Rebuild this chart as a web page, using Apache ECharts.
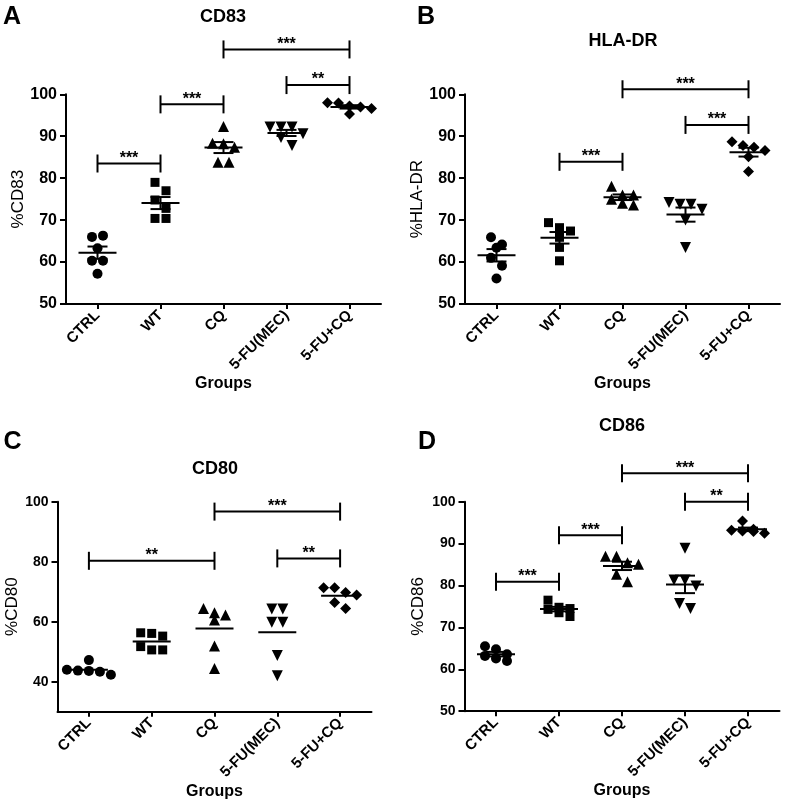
<!DOCTYPE html>
<html>
<head>
<meta charset="utf-8">
<script src="https://cdn.jsdelivr.net/npm/echarts@6/dist/echarts.min.js"></script>
<style>
html,body{margin:0;padding:0;background:#fff;}
#c{width:787px;height:806px;}
</style>
</head>
<body>
<div id="c"></div>
<script>
// ---------------- data ----------------
const categories = ['CTRL', 'WT', 'CQ', '5-FU(MEC)', '5-FU+CQ'];

// Panel A: CD83
const cd83_CTRL = [66.0, 66.3, 63.3, 60.3, 60.3, 57.2];
const cd83_WT   = [79.0, 77.0, 74.8, 72.8, 70.4, 70.4];
const cd83_CQ   = [92.3, 88.3, 88.2, 87.4, 83.8, 83.8];
const cd83_MEC  = [92.2, 92.2, 92.2, 90.6, 89.7, 87.8];
const cd83_FUCQ = [98.0, 97.9, 97.2, 97.0, 96.6, 95.3];

// Panel B: HLA-DR
const hla_CTRL = [65.9, 64.2, 63.4, 61.0, 59.1, 56.1];
const hla_WT   = [69.4, 68.2, 67.4, 65.9, 63.5, 60.3];
const hla_CQ   = [78.1, 76.0, 76.0, 75.0, 74.0, 73.6];
const hla_MEC  = [74.2, 73.8, 73.8, 72.6, 70.0, 63.5];
const hla_FUCQ = [88.7, 87.8, 87.4, 86.6, 85.1, 81.6];

// Panel C: CD80
const cd80_CTRL = [47.2, 44.0, 43.7, 43.6, 43.3, 42.3];
const cd80_WT   = [56.3, 56.1, 55.2, 51.7, 50.6, 50.6];
const cd80_CQ   = [64.4, 63.0, 62.2, 60.6, 51.9, 44.4];
const cd80_MEC  = [64.2, 64.2, 59.8, 59.8, 48.7, 42.0];
const cd80_FUCQ = [71.3, 71.3, 69.7, 68.9, 66.4, 64.4];

// Panel D: CD86
const cd86_CTRL = [65.5, 64.8, 63.6, 63.2, 62.6, 62.0];
const cd86_WT   = [76.5, 74.8, 74.5, 74.3, 73.5, 72.6];
const cd86_CQ   = [87.0, 87.0, 85.4, 85.1, 82.7, 80.9];
const cd86_MEC  = [88.9, 81.3, 81.3, 79.9, 75.7, 74.5];
const cd86_FUCQ = [95.4, 93.4, 93.2, 93.0, 92.9, 92.5];

// significance brackets: [fromCategory, toCategory, level]
const cd83_brackets = [[0, 1, 83.5], [1, 2, 97.6], [3, 4, 102.2], [2, 4, 110.7]];
const cd83_stars    = ['***', '***', '**', '***'];
const hla_brackets  = [[1, 2, 83.9], [3, 4, 92.7], [2, 4, 101.2]];
const hla_stars     = ['***', '***', '***'];
const cd80_brackets = [[0, 2, 80.3], [3, 4, 81.1], [2, 4, 96.7]];
const cd80_stars    = ['**', '**', '***'];
const cd86_brackets = [[0, 1, 80.9], [1, 2, 92.0], [3, 4, 100.0], [2, 4, 106.8]];
const cd86_stars    = ['***', '***', '**', '***'];

// y tick values
const ticksA = [50, 60, 70, 80, 90, 100];
const ticksC = [40, 60, 80, 100];

// ---------------- layout / style ----------------
const FONT = "'Liberation Sans', Arial, Helvetica, sans-serif";
const panels = [
  {groups: [cd83_CTRL, cd83_WT, cd83_CQ, cd83_MEC, cd83_FUCQ], br: cd83_brackets, st: cd83_stars,
   grid: {left: 66, top: 94.3, width: 315, height: 209.7}, min: 50, max: 100, ticks: ticksA,
   yName: '%CD83', nameGap: 37, tickFont: 16, sem: true},
  {groups: [hla_CTRL, hla_WT, hla_CQ, hla_MEC, hla_FUCQ], br: hla_brackets, st: hla_stars,
   grid: {left: 465, top: 94.3, width: 315, height: 209.7}, min: 50, max: 100, ticks: ticksA,
   yName: '%HLA-DR', nameGap: 39, tickFont: 16, sem: true},
  {groups: [cd80_CTRL, cd80_WT, cd80_CQ, cd80_MEC, cd80_FUCQ], br: cd80_brackets, st: cd80_stars,
   grid: {left: 57.5, top: 501.7, width: 314, height: 210}, min: 30, max: 100, ticks: ticksC,
   yName: '%CD80', nameGap: 30, tickFont: 14, sem: false},
  {groups: [cd86_CTRL, cd86_WT, cd86_CQ, cd86_MEC, cd86_FUCQ], br: cd86_brackets, st: cd86_stars,
   grid: {left: 464.5, top: 501.7, width: 315, height: 209.5}, min: 50, max: 100, ticks: ticksA,
   yName: '%CD86', nameGap: 38, tickFont: 14, sem: true}
];

const symbols = [
  {symbol: 'circle', size: 10, rotate: 0},
  {symbol: 'rect', size: 9, rotate: 0},
  {symbol: 'triangle', size: 11, rotate: 0},
  {symbol: 'triangle', size: 11, rotate: 180},
  {symbol: 'diamond', size: 11, rotate: 0}
];

// simple beeswarm: points whose values are close (in pixels) share a row and are spread sideways
function swarm(values, pxPerUnit) {
  const thr = 9, gap = 11;
  const order = values.map((v, i) => i).sort((a, b) => values[b] - values[a]);
  const rows = [];
  order.forEach(i => {
    const r = rows[rows.length - 1];
    if (r && (values[r[0]] - values[i]) * pxPerUnit < thr) r.push(i);
    else rows.push([i]);
  });
  const off = new Array(values.length).fill(0);
  rows.forEach(r => {
    r.sort((a, b) => a - b);
    r.forEach((i, k) => { off[i] = (k - (r.length - 1) / 2) * gap; });
  });
  return off;
}

function meanSem(v) {
  const n = v.length;
  const m = v.reduce((a, b) => a + b, 0) / n;
  const sd = Math.sqrt(v.reduce((a, b) => a + (b - m) * (b - m), 0) / (n - 1));
  return [m, sd / Math.sqrt(n)];
}

const grids = [], xAxes = [], yAxes = [], series = [];
panels.forEach((p, pi) => {
  grids.push(Object.assign({outerBoundsMode: 'none', containLabel: false}, p.grid));
  xAxes.push({
    type: 'category', gridIndex: pi, data: categories, boundaryGap: true,
    axisLine: {show: true, onZero: false, lineStyle: {color: '#000', width: 2}},
    axisTick: {show: true, alignWithLabel: true, length: 5, lineStyle: {color: '#000', width: 2}},
    axisLabel: {interval: 0, rotate: 45, margin: 9, color: '#000', fontFamily: FONT,
      fontWeight: 'bold', fontSize: 15},
    splitLine: {show: false},
    name: 'Groups', nameLocation: 'middle', nameGap: 71,
    nameTextStyle: {color: '#000', fontFamily: FONT, fontWeight: 'bold', fontSize: 16}
  });
  yAxes.push({
    type: 'value', gridIndex: pi, min: p.min, max: p.max,
    axisLine: {show: true, lineStyle: {color: '#000', width: 2}},
    axisTick: {show: true, length: 6, lineStyle: {color: '#000', width: 2}, customValues: p.ticks},
    axisLabel: {margin: 9, color: '#000', fontFamily: FONT, fontWeight: 'bold', fontSize: p.tickFont,
      customValues: p.ticks},
    splitLine: {show: false},
    name: p.yName, nameLocation: 'middle', nameGap: p.nameGap, nameRotate: 90,
    nameTextStyle: {color: '#000', fontFamily: FONT, fontSize: 17}
  });
  const pxPerUnit = p.grid.height / (p.max - p.min);

  p.groups.forEach((vals, ci) => {
    const off = swarm(vals, pxPerUnit);
    const s = symbols[ci];
    series.push({
      type: 'scatter', xAxisIndex: pi, yAxisIndex: pi,
      symbol: s.symbol, symbolSize: s.size, symbolRotate: s.rotate,
      itemStyle: {color: '#000', opacity: 1},
      emphasis: {disabled: true}, silent: true, z: 2,
      data: vals.map((v, i) => ({value: [ci, v], symbolOffset: [off[i], 0]}))
    });
  });

  // mean (± SEM) lines
  const stats = p.groups.map((vals, ci) => { const ms = meanSem(vals); return [ci, ms[0], ms[1]]; });
  const withSem = p.sem;
  series.push({
    type: 'custom', xAxisIndex: pi, yAxisIndex: pi, z: 3, silent: true,
    encode: {x: 0, y: 1},
    data: stats,
    renderItem: function (params, api) {
      const c = api.coord([api.value(0), api.value(1)]);
      const ch = [{type: 'line', shape: {x1: c[0] - 19, y1: c[1], x2: c[0] + 19, y2: c[1]},
        style: {stroke: '#000', lineWidth: 2}}];
      if (withSem) {
        const hi = api.coord([api.value(0), api.value(1) + api.value(2)]);
        const lo = api.coord([api.value(0), api.value(1) - api.value(2)]);
        ch.push({type: 'line', shape: {x1: c[0], y1: hi[1], x2: c[0], y2: lo[1]}, style: {stroke: '#000', lineWidth: 2}});
        ch.push({type: 'line', shape: {x1: c[0] - 10, y1: hi[1], x2: c[0] + 10, y2: hi[1]}, style: {stroke: '#000', lineWidth: 2}});
        ch.push({type: 'line', shape: {x1: c[0] - 10, y1: lo[1], x2: c[0] + 10, y2: lo[1]}, style: {stroke: '#000', lineWidth: 2}});
      }
      return {type: 'group', children: ch};
    }
  });

  // significance brackets
  const stars = p.st;
  series.push({
    type: 'custom', xAxisIndex: pi, yAxisIndex: pi, z: 4, silent: true, clip: false,
    encode: {x: 0, y: 2},
    data: p.br,
    renderItem: function (params, api) {
      const a = api.coord([api.value(0), api.value(2)]);
      const b = api.coord([api.value(1), api.value(2)]);
      const st = {stroke: '#000', lineWidth: 2};
      return {type: 'group', children: [
        {type: 'line', shape: {x1: a[0], y1: a[1], x2: b[0], y2: b[1]}, style: st},
        {type: 'line', shape: {x1: a[0], y1: a[1] - 9, x2: a[0], y2: a[1] + 9}, style: st},
        {type: 'line', shape: {x1: b[0], y1: b[1] - 9, x2: b[0], y2: b[1] + 9}, style: st},
        {type: 'text', x: (a[0] + b[0]) / 2, y: a[1] - 5,
          style: {text: stars[params.dataIndex], align: 'center', verticalAlign: 'middle',
            fontFamily: FONT, fontWeight: 'bold', fontSize: 16, fill: '#000'}}
      ]};
    }
  });
});

const txt = (t, x, y, size) => ({type: 'text', x: x, y: y, silent: true,
  style: {text: t, align: 'center', verticalAlign: 'middle', fontFamily: FONT, fontWeight: 'bold',
    fontSize: size, fill: '#000'}});

const graphic = [
  txt('A', 12, 17, 25), txt('CD83', 223, 17.5, 18),
  txt('B', 426, 17.5, 25), txt('HLA-DR', 623, 41, 18),
  txt('C', 12.5, 442.5, 25), txt('CD80', 215, 469, 18),
  txt('D', 427, 442.5, 25), txt('CD86', 622, 426, 18)
];

const chart = echarts.init(document.getElementById('c'), null, {renderer: 'canvas'});
chart.setOption({
  backgroundColor: '#fff',
  animation: false,
  grid: grids, xAxis: xAxes, yAxis: yAxes, series: series, graphic: graphic
});
</script>
</body>
</html>
